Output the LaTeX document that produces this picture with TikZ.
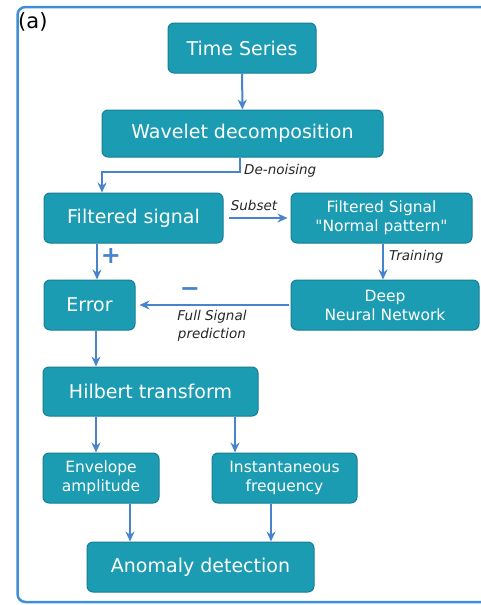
\documentclass[tikz,border=0pt]{standalone}
\usepackage{fontspec}
\setmainfont{DejaVu Sans}
\usetikzlibrary{arrows.meta, positioning}
\definecolor{boxfill}{RGB}{27,156,178}
\definecolor{boxedge}{RGB}{22,126,148}
\definecolor{flow}{RGB}{72,132,204}
\definecolor{framec}{RGB}{62,142,216}

\tikzset{
  block/.style={rectangle, rounded corners=6pt, draw=boxedge, fill=boxfill, text=white,
    line width=1pt, align=center, inner sep=0pt, font=\fontsize{19}{23}\selectfont},
  smallblock/.style={block, font=\fontsize{15.5}{19}\selectfont},
  flowarr/.style={draw=flow, line width=2pt, -{Stealth[length=10pt, width=9pt]}},
  note/.style={inner sep=1pt, text=black!85, font=\fontsize{13.5}{17.5}\selectfont\itshape},
  sign/.style={inner sep=0pt, text=flow, font=\fontsize{24}{24}\selectfont\bfseries},
}

\begin{document}
\begin{tikzpicture}[x=1pt, y=-1pt]
    \useasboundingbox (0,0) rectangle (481,605);
    \begin{scope}
      \clip (0,0) rectangle (481,605);
      \draw[framec, line width=2.5pt, rounded corners=8pt] (17.5,7) rectangle (520,602);
    \end{scope}
    \node[anchor=west, inner sep=0pt, font=\fontsize{21}{25}\selectfont] (tag) at (18,22) {(a)};

    % boxes
    \node[block, minimum width=148pt, minimum height=50pt] (ts) at (242,48) {Time Series};
    \node[block, minimum width=281pt, minimum height=47pt] (wd) at (242.5,133.5) {Wavelet decomposition};
    \node[block, minimum width=179pt, minimum height=50pt] (fs) at (133.5,218) {Filtered signal};
    \node[smallblock, minimum width=181pt, minimum height=50pt] (np) at (381.5,218) {Filtered Signal\\\textquotedbl Normal pattern\textquotedbl};
    \node[block, minimum width=91pt, minimum height=50pt] (err) at (89.5,305) {Error};
    \node[smallblock, minimum width=188pt, minimum height=50pt] (dnn) at (385,305) {Deep\\Neural Network};
    \node[block, minimum width=215pt, minimum height=49pt] (ht) at (150.5,391.5) {Hilbert transform};
    \node[smallblock, minimum width=116pt, minimum height=50pt] (env) at (101,478) {Envelope\\amplitude};
    \node[smallblock, minimum width=145pt, minimum height=50pt] (inst) at (284.5,478) {Instantaneous\\frequency};
    \node[block, minimum width=227pt, minimum height=50pt] (ad) at (200.5,567) {Anomaly detection};

    % helper coordinates
    \coordinate (dn) at (240,172);
    \coordinate (dnl) at (102,172);
    \coordinate (cl) at (97,0);
    \coordinate (tr) at (383,0);
    \coordinate (hl) at (96,0);
    \coordinate (hr) at (235,0);
    \coordinate (al) at (130,0);
    \coordinate (ar) at (271,0);

    % connectors
    \draw[flowarr] (ts) -- (wd);
    \draw[flowarr] (wd.south -| dn) -- (dn) -- (dnl) -- (fs.north -| dnl);
    \draw[flowarr, shorten <=5pt, shorten >=3pt] (fs) -- (np);
    \draw[flowarr] (np.south -| tr) -- (dnn.north -| tr);
    \draw[flowarr] (fs.south -| cl) -- (err.north -| cl);
    \draw[flowarr, shorten <=2pt, shorten >=4pt] (dnn) -- (err);
    \draw[flowarr] (err.south -| hl) -- (ht.north -| hl);
    \draw[flowarr] (ht.south -| hl) -- (env.north -| hl);
    \draw[flowarr] (ht.south -| hr) -- (inst.north -| hr);
    \draw[flowarr] (env.south -| al) -- (ad.north -| al);
    \draw[flowarr] (inst.south -| ar) -- (ad.north -| ar);

    % labels
    \node[note, anchor=west] (denoise) at (243,171) {De-noising};
    \node[note] (subset) at (254,205) {Subset};
    \node[note, anchor=west] (train) at (388,257) {Training};
    \node[note, align=center] (pred) at (212,326) {Full Signal\\prediction};
    \node[sign] (plus) at (111,256) {+};
    \node[sign] (minus) at (190,292) {−};
  \end{tikzpicture}
\end{document}
